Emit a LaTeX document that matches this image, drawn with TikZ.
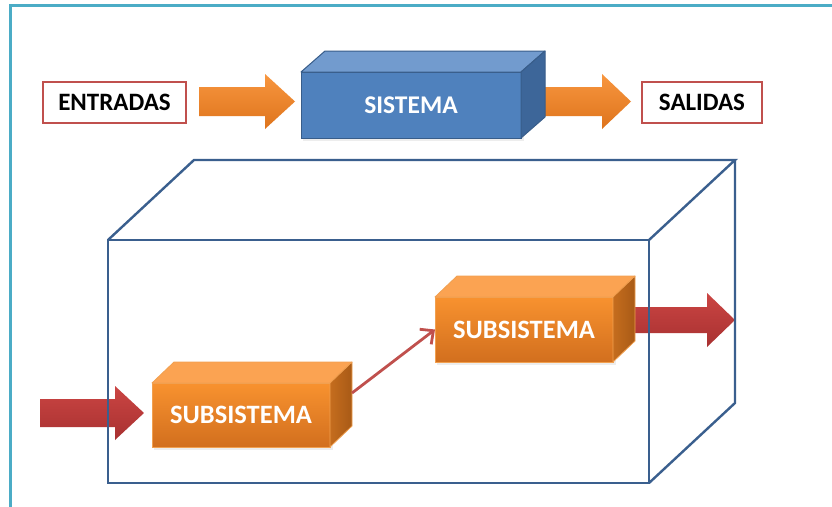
\documentclass[tikz,border=0pt]{standalone}
\usepackage{fontspec}
\setmainfont{Carlito}
\usetikzlibrary{calc,arrows.meta}

\definecolor{frameteal}{HTML}{4BACC6}
\definecolor{wireblue}{HTML}{3A5F8E}
\definecolor{labelred}{HTML}{C0504D}
\definecolor{bluefront}{HTML}{4F81BD}
\definecolor{bluetop}{HTML}{729BCE}
\definecolor{blueside}{HTML}{3D6699}
\definecolor{blueedge}{HTML}{385D8A}
\definecolor{orgtopA}{HTML}{F8922F}
\definecolor{orgbotA}{HTML}{D26F1E}
\definecolor{orgtop}{HTML}{FBA352}
\definecolor{orgsideA}{HTML}{C56D1E}
\definecolor{orgsideB}{HTML}{A85A16}
\definecolor{orgedge}{HTML}{F1A050}
\definecolor{arrowOA}{HTML}{F8963F}
\definecolor{arrowOB}{HTML}{DE741C}
\definecolor{arrowRA}{HTML}{CB4543}
\definecolor{arrowRB}{HTML}{A83131}

\tikzset{
  x=1pt, y=-1pt,
  labelbox/.style={draw=labelred, line width=2pt, fill=white, outer sep=0pt,
    inner sep=0pt, font=\fontsize{25}{30}\selectfont\bfseries, text=black},
  bluefrontface/.style={draw=blueedge, line width=1pt, fill=bluefront, outer sep=0pt,
    inner sep=0pt, font=\fontsize{25.5}{30}\selectfont\bfseries, text=white},
  orangefrontface/.style={draw=orgedge, line width=0.8pt, top color=orgtopA,
    bottom color=orgbotA, outer sep=0pt, inner sep=0pt,
    font=\fontsize{26.5}{32}\selectfont\bfseries, text=white},
  bluetopface/.style={fill=bluetop, draw=blueedge, line width=1pt, line join=round},
  bluesideface/.style={fill=blueside, draw=blueedge, line width=1pt, line join=round},
  orangetopface/.style={fill=orgtop, draw=orgedge, line width=0.8pt, line join=round},
  orangesideface/.style={left color=orgsideA, right color=orgsideB, draw=orgedge,
    line width=0.8pt, line join=round},
  boxshadow/.style={fill=black, opacity=0.07},
  orangearrow/.style={top color=arrowOA, bottom color=arrowOB},
  redarrow/.style={top color=arrowRA, bottom color=arrowRB},
  wireframe/.style={draw=wireblue, line width=2.4pt, line join=miter},
  linkarrow/.style={draw=labelred, line width=2.8pt,
    -{Straight Barb[length=10pt,width=19pt,line width=2.8pt]}},
}

% top and right faces of a box whose front face is node #1, depth (#2,#3)
\newcommand\boxfaces[5]{%
  \path[#4] (#1.north west) -- ++(#2,-#3) -- ($(#1.north east)+(#2,-#3)$)
    -- (#1.north east) -- cycle;
  \path[#5] (#1.north east) -- ++(#2,-#3) -- ($(#1.south east)+(#2,-#3)$)
    -- (#1.south east) -- cycle;
}
% block arrow: #1 name of tip, #2 tail x, #3 neck x, #4 tip x, #5 centre y,
% #6 half shaft width, #7 half head width, #8 style
\newcommand\blockarrow[8]{%
  \coordinate (#1) at (#4,#5);
  \path[#8] (#2,#5-#6) -- (#3,#5-#6) -- (#3,#5-#7) -- (#1)
    -- (#3,#5+#7) -- (#3,#5+#6) -- (#2,#5+#6) -- cycle;
}

\begin{document}
\begin{tikzpicture}
\useasboundingbox[fill=white] (0,0) rectangle (832,506);

% outer frame
\draw[frameteal, line width=3pt] (10,515) -- (10,5) -- (840,5);

% top row: inputs, system, outputs
\node[labelbox, minimum width=143, minimum height=41] (ent) at (114.5,102.5) {ENTRADAS};
\node[labelbox, minimum width=120, minimum height=41] (sal) at (702,102.5) {SALIDAS};

\blockarrow{inarrow}{199}{265}{295}{101.5}{14.5}{27.5}{orangearrow}
\blockarrow{outarrow}{533}{602}{631}{101.5}{14.5}{27.5}{orangearrow}

\fill[boxshadow] (303,76) rectangle (524,141);
\node[bluefrontface, minimum width=220, minimum height=66] (sis) at (411,105) {SISTEMA};
\boxfaces{sis}{24}{21}{bluetopface}{bluesideface}

% bottom: system opened into subsystems
\blockarrow{subin}{40}{115}{144}{413}{14}{27}{redarrow}
\blockarrow{subout}{632}{707}{735}{320}{13}{27}{redarrow}

\node[minimum width=541, minimum height=243, inner sep=0pt, outer sep=0pt] (big) at (378.5,361.5) {};
\draw[wireframe] (big.north west) rectangle (big.south east);
\draw[wireframe] (big.north west) -- ++(86,-80) -- ($(big.north east)+(86,-80)$)
  -- (big.north east);
\draw[wireframe] ($(big.north east)+(86,-80)$) -- ($(big.south east)+(86,-80)$)
  -- (big.south east);

\fill[boxshadow] (154,386) rectangle (333,450);
\node[orangefrontface, minimum width=178, minimum height=64] (sub1) at (241,415) {SUBSISTEMA};
\boxfaces{sub1}{22}{21}{orangetopface}{orangesideface}

\fill[boxshadow] (437,300) rectangle (616,365);
\node[orangefrontface, minimum width=178, minimum height=65] (sub2) at (524,329.5) {SUBSISTEMA};
\boxfaces{sub2}{22}{21}{orangetopface}{orangesideface}

\coordinate (sub1corner) at ($(sub1.east)+(22,-22)$);
\draw[linkarrow] (sub1corner) -- (sub2.west);
\end{tikzpicture}
\end{document}
